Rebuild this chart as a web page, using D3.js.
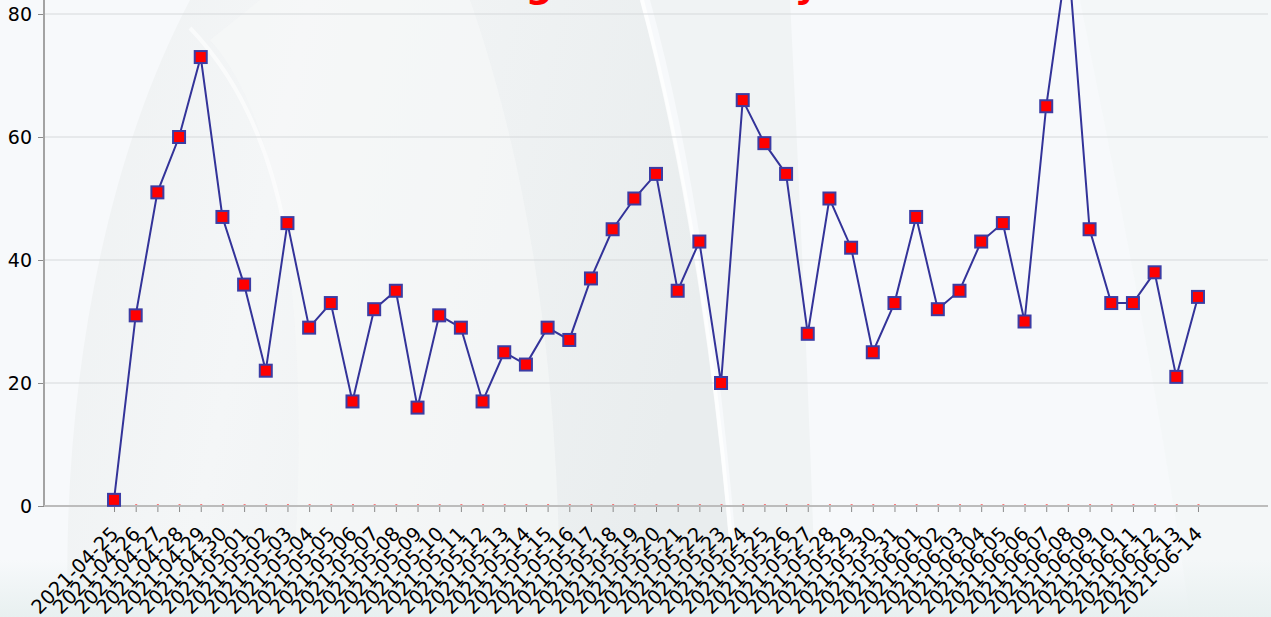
<!DOCTYPE html>
<html>
<head>
<meta charset="utf-8">
<script src="https://cdn.jsdelivr.net/npm/d3@7/dist/d3.min.js"></script>
<style>
  html, body { margin: 0; padding: 0; overflow: hidden; }
  .axis text { font-family: "DejaVu Sans", sans-serif; fill: #000; }
</style>
</head>
<body>
<script>
// data
var dates = ["2021-04-25","2021-04-26","2021-04-27","2021-04-28","2021-04-29","2021-04-30",
  "2021-05-01","2021-05-02","2021-05-03","2021-05-04","2021-05-05","2021-05-06","2021-05-07",
  "2021-05-08","2021-05-09","2021-05-10","2021-05-11","2021-05-12","2021-05-13","2021-05-14",
  "2021-05-15","2021-05-16","2021-05-17","2021-05-18","2021-05-19","2021-05-20","2021-05-21",
  "2021-05-22","2021-05-23","2021-05-24","2021-05-25","2021-05-26","2021-05-27","2021-05-28",
  "2021-05-29","2021-05-30","2021-05-31","2021-06-01","2021-06-02","2021-06-03","2021-06-04",
  "2021-06-05","2021-06-06","2021-06-07","2021-06-08","2021-06-09","2021-06-10","2021-06-11",
  "2021-06-12","2021-06-13","2021-06-14"];
var counts = [1,31,51,60,73,47,36,22,46,29,33,17,32,35,16,31,29,17,25,23,29,27,37,45,50,54,35,
  43,20,66,59,54,28,50,42,25,33,47,32,35,43,46,30,65,90,45,33,33,38,21,34];
var yTicks = [0, 20, 40, 60, 80];
var title = "Number of logins each day";

var width = 1271, height = 617;
var plot = {left: 44, right: 1268, top: 14, bottom: 506};

var svg = d3.select("body").append("svg")
    .attr("width", width)
    .attr("height", height);

// ---- background swooshes ----
var defs = svg.append("defs");
var g2 = defs.append("linearGradient").attr("id", "swoosh")
    .attr("x1", 0).attr("y1", 0).attr("x2", 1).attr("y2", 0.2);
g2.append("stop").attr("offset", "0").attr("stop-color", "#eef1f2");
g2.append("stop").attr("offset", "0.35").attr("stop-color", "#f4f6f7");
g2.append("stop").attr("offset", "1").attr("stop-color", "#e9edee");

var g3 = defs.append("linearGradient").attr("id", "bottomBand")
    .attr("x1", 0).attr("y1", 0).attr("x2", 0).attr("y2", 1);
g3.append("stop").attr("offset", "0").attr("stop-color", "#e8f0f0").attr("stop-opacity", 0);
g3.append("stop").attr("offset", "1").attr("stop-color", "#e8f0f0").attr("stop-opacity", 1);

var bg = svg.append("g");
bg.append("rect").attr("width", width).attr("height", height).attr("fill", "#f7f9fb");

// big gray swoosh in the left-middle part
bg.append("path")
    .attr("d", "M190,0 L640,0 C690,180 720,400 735,617 L68,617 C62,420 95,180 190,0 Z")
    .attr("fill", "url(#swoosh)");
// lighter inner area
bg.append("path")
    .attr("d", "M210,40 C300,140 310,400 290,617 L560,617 C560,420 540,200 470,0 L260,0 Z")
    .attr("fill", "#f6f8f9").attr("opacity", 0.6);
// soft gray band right of the white stripe
bg.append("path")
    .attr("d", "M650,0 L790,0 C800,200 810,420 816,617 L742,617 C725,400 700,180 650,0 Z")
    .attr("fill", "#f0f3f4");
// white stripes
bg.append("path")
    .attr("d", "M642,0 C690,180 722,400 737,617")
    .attr("fill", "none").attr("stroke", "#ffffff").attr("stroke-width", 4).attr("opacity", 0.75);
bg.append("path")
    .attr("d", "M190,28 C240,80 270,150 285,230")
    .attr("fill", "none").attr("stroke", "#ffffff").attr("stroke-width", 4).attr("opacity", 0.6);
// right side faint diagonal
bg.append("path")
    .attr("d", "M1080,0 L1271,0 L1271,617 L1190,617 C1160,400 1120,200 1080,0 Z")
    .attr("fill", "#f2f6f7").attr("opacity", 0.7);
bg.append("rect").attr("x", 0).attr("y", 560).attr("width", width).attr("height", 57)
    .attr("fill", "url(#bottomBand)");

// ---- scales ----
var x = d3.scalePoint()
    .domain(dates)
    .range([plot.left, plot.right])
    .padding(3.23);

var y = d3.scaleLinear()
    .domain([0, 80])
    .range([plot.bottom, plot.top]);

// gridlines
svg.append("g")
    .selectAll("line")
    .data(yTicks.filter(function(d) { return d > 0; }))
    .enter().append("line")
    .attr("x1", plot.left).attr("x2", plot.right)
    .attr("y1", function(d) { return y(d); })
    .attr("y2", function(d) { return y(d); })
    .attr("stroke", "#d6d9db")
    .attr("stroke-width", 1);

// title (only its lower part fits in the picture)
svg.append("text")
    .attr("x", 247)
    .attr("y", -3)
    .style("font-family", "DejaVu Sans, sans-serif")
    .style("font-weight", "bold")
    .style("font-size", "38px")
    .attr("fill", "#ff0000")
    .text(title);

// y axis
var yAxis = d3.axisLeft(y).tickValues(yTicks).tickSize(6).tickPadding(6);
var yg = svg.append("g")
    .attr("class", "axis")
    .attr("transform", "translate(" + plot.left + ",0)")
    .call(yAxis);
yg.select(".domain").remove();
yg.selectAll(".tick line").attr("stroke", "#8a8a8a");
yg.selectAll(".tick text").style("font-size", "19px");
yg.append("line")
    .attr("x1", 0).attr("x2", 0)
    .attr("y1", -5).attr("y2", plot.bottom)
    .attr("stroke", "#a3a3a3").attr("stroke-width", 2);

// x axis
var xAxis = d3.axisBottom(x).tickSize(6).tickPadding(0);
var xg = svg.append("g")
    .attr("class", "axis")
    .attr("transform", "translate(0," + plot.bottom + ")")
    .call(xAxis);
xg.select(".domain").remove();
xg.selectAll(".tick line").attr("stroke", "#8a8a8a").attr("y1", 1);
xg.append("line")
    .attr("x1", plot.left).attr("x2", plot.right)
    .attr("y1", 0).attr("y2", 0)
    .attr("stroke", "#bcbcbc").attr("stroke-width", 2);
// little red marks on the axis line
xg.selectAll(".tick").append("rect")
    .attr("x", -1).attr("y", -1.5)
    .attr("width", 2).attr("height", 1.2)
    .attr("fill", "#ff0000");
xg.selectAll(".tick text")
    .style("font-size", "19.5px")
    .style("text-anchor", "end")
    .attr("y", 0)
    .attr("dy", 0)
    .attr("transform", "translate(5,29) rotate(-45)");

// line + markers
var line = d3.line()
    .x(function(d, i) { return x(dates[i]); })
    .y(function(d) { return y(d); });

svg.append("path")
    .datum(counts)
    .attr("d", line)
    .attr("fill", "none")
    .attr("stroke", "#333399")
    .attr("stroke-width", 2);

svg.append("g")
    .selectAll("rect")
    .data(counts)
    .enter().append("rect")
    .attr("x", function(d, i) { return x(dates[i]) - 6; })
    .attr("y", function(d) { return y(d) - 6; })
    .attr("width", 12)
    .attr("height", 12)
    .attr("fill", "#ff0000")
    .attr("stroke", "#3c3ca4")
    .attr("stroke-width", 2);
</script>
</body>
</html>
